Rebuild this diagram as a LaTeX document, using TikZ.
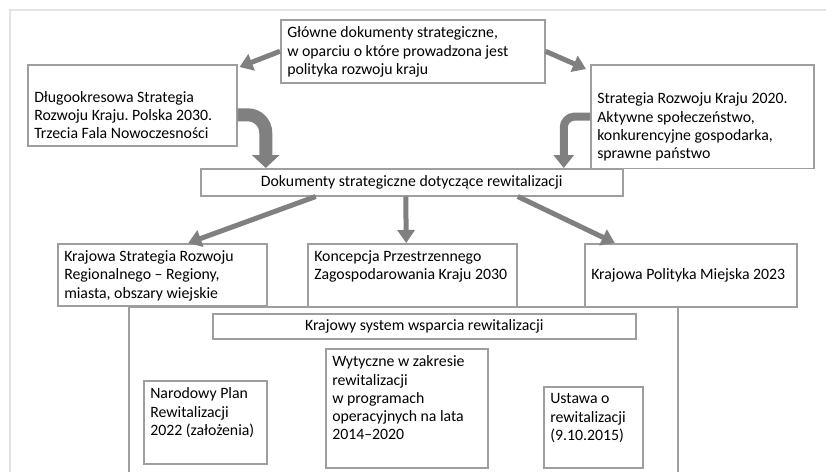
\documentclass[tikz,border=0pt]{standalone}
\usepackage{fontspec}
\setmainfont{Carlito}
\usetikzlibrary{positioning, arrows.meta}
\definecolor{arrowgray}{RGB}{128,128,128}
\definecolor{boxgray}{RGB}{158,158,158}
\definecolor{framegray}{RGB}{228,228,228}
\tikzstyle{box} = [rectangle, draw=boxgray, line width=1.5pt, fill=white, inner xsep=6.5pt, inner ysep=7pt, anchor=north west]
\tikzstyle{bar} = [rectangle, draw=boxgray, line width=1.5pt, fill=white, inner sep=0pt, anchor=north west, text centered]
\tikzstyle{arrow} = [line width=5pt, draw=arrowgray, -{Triangle[width=17pt,length=13pt]}]
\tikzstyle{bentarrow} = [line width=13pt, draw=arrowgray, rounded corners=18pt, -{Triangle[width=27pt,length=13pt]}]
\tikzstyle{thinbent} = [line width=8pt, draw=arrowgray, rounded corners=11pt, -{Triangle[width=20pt,length=13pt]}]
\tikzstyle{every node}=[font=\fontsize{15.8}{18.3}\selectfont]
% tekst w ramce o zadanej szerokosci i wysokosci
\newcommand{\boxtxt}[4]{\parbox[c][\dimexpr#2pt-14pt\relax][#3]{\dimexpr#1pt-12pt\relax}{\raggedright\frenchspacing #4}}

\begin{document}
\begin{tikzpicture}[x=1pt,y=-1pt]
			\clip (0,0) rectangle (826,471);
			\draw[framegray, line width=2pt] (10,10) rectangle (840,490);
			
			%ramki dokumentow
			\node (glowne) [box] at (280,19) {\boxtxt{263}{63}{t}{Główne dokumenty strategiczne,\\ w oparciu o które prowadzona jest\\ polityka rozwoju kraju}};
			\node (dlugo) [box] at (27,64) {\boxtxt{208}{81}{b}{Długookresowa Strategia\\ Rozwoju Kraju. Polska 2030.\\ Trzecia Fala Nowoczesności}};
			\node (srk) [box] at (590,64) {\boxtxt{222}{101}{b}{Strategia Rozwoju Kraju 2020.\\ Aktywne społeczeństwo,\\ konkurencyjne gospodarka,\\ sprawne państwo}};
			\node (dokumenty) [bar, minimum width=422pt, minimum height=27pt] at (200,168) {Dokumenty strategiczne dotyczące rewitalizacji};
			\node (ksrr) [box] at (57,243) {\boxtxt{208}{62}{t}{Krajowa Strategia Rozwoju\\ Regionalnego – Regiony,\\ miasta, obszary wiejskie}};
			\node (kpzk) [box] at (307,243) {\boxtxt{208}{64}{t}{Koncepcja Przestrzennego\\ Zagospodarowania Kraju 2030}};
			\node (kpm) [box] at (584,243) {\boxtxt{211}{63}{c}{Krajowa Polityka Miejska 2023}};
			\node (system) [bar, minimum width=549pt, minimum height=200pt] at (128,306) {};
			\node (ksw) [bar, minimum width=423pt, minimum height=25pt] at (212,313) {Krajowy system wsparcia rewitalizacji};
			\node (npr) [box] at (143,380) {\boxtxt{122}{83}{t}{Narodowy Plan\\ Rewitalizacji\\ 2022 (założenia)}};
			\node (wytyczne) [box] at (325,348) {\boxtxt{161}{119}{t}{Wytyczne w zakresie\\ rewitalizacji\\ w programach\\ operacyjnych na lata\\ 2014–2020}};
			\node (ustawa) [box] at (543,386) {\boxtxt{98}{81}{t}{Ustawa o\\ rewitalizacji\\ (9.10.2015)}};
			
			%strzalki
			\draw [arrow] (glowne.west) -- ([xshift=2pt,yshift=-3pt]dlugo.north east);
			\draw [arrow] (glowne.east) -- ([xshift=-4pt,yshift=-5pt]srk.north west);
			\draw [bentarrow] ([yshift=-9.5pt]dlugo.east) -| ([xshift=-146pt]dokumenty.north);
			\draw [thinbent] (srk.west) -| ([xshift=152pt]dokumenty.north);
			\draw [arrow] ([xshift=-96pt]dokumenty.south) -- ([xshift=26pt]ksrr.north);
			\draw [arrow] ([xshift=-6pt]dokumenty.south) -- ([xshift=-6pt]kpzk.north);
			\draw [arrow] ([xshift=106pt]dokumenty.south) -- ([xshift=-76pt]kpm.north);
		\end{tikzpicture}
\end{document}
